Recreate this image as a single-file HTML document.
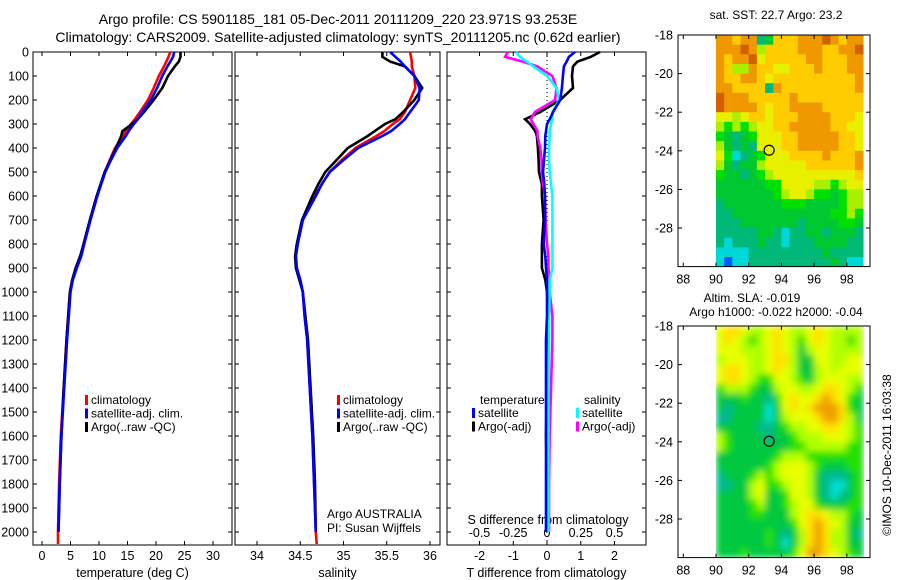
<!DOCTYPE html>
<html><head><meta charset="utf-8"><style>
html,body{margin:0;padding:0;background:#fff;}
svg{display:block;font-family:"Liberation Sans",Arial,sans-serif;}
</style></head><body>
<svg id="fig" width="900" height="580" viewBox="0 0 900 580" xmlns="http://www.w3.org/2000/svg">
<defs>
<filter id="smooth" x="0" y="0" width="1" height="1"><feGaussianBlur stdDeviation="3.5" edgeMode="duplicate"/></filter>
<clipPath id="clip2"><rect x="716" y="326" width="154" height="231.6"/></clipPath>
</defs>
<rect width="900" height="580" fill="#fff"/>
<text x="338" y="24" font-size="14" text-anchor="middle">Argo profile: CS 5901185_181 05-Dec-2011 20111209_220 23.971S 93.253E</text>
<text x="338" y="42" font-size="14" text-anchor="middle">Climatology: CARS2009. Satellite-adjusted climatology: synTS_20111205.nc (0.62d earlier)</text>
<g id="p1"></g>
<g id="p2"></g>
<g id="p3"></g>
<g id="m1"></g>
<g id="m2"></g>
<text transform="translate(891,455) rotate(-90)" font-size="12" text-anchor="middle">©IMOS 10-Dec-2011 16:03:38</text>
</svg>
<script>
// ---- profile data ----
const depths = [0,20,40,60,100,150,200,250,280,300,330,350,400,450,500,550,600,700,800,850,900,950,1000,1100,1200,1400,1600,1800,2000,2050];
const tempClim = [22.5,22.2,21.8,21.4,20.5,19.6,18.6,17.2,16.3,15.6,14.7,14.2,12.8,11.9,11.0,10.3,9.6,8.4,7.3,6.8,6.0,5.3,4.9,4.6,4.3,3.8,3.3,3.0,2.8,2.8];
const tempSat = [23.2,23.0,22.5,22.0,21.1,20.2,19.1,17.6,16.8,16.1,15.2,14.7,13.2,12.1,11.1,10.4,9.7,8.5,7.4,6.9,6.1,5.4,5.0,4.7,4.4,3.9,3.4,3.1,2.9,null];
const tempArgo = [24.3,24.3,24.0,23.3,22.1,21.1,19.6,17.9,16.8,15.8,14.1,13.9,13.0,12.0,11.0,10.3,9.6,8.4,7.3,6.7,5.9,5.3,4.9,4.6,4.3,3.8,3.4,3.1,2.9,null];
const salClim = [35.77,35.78,35.79,35.79,35.82,35.83,35.77,35.71,35.65,35.57,35.47,35.38,35.14,34.98,34.84,34.75,34.67,34.53,34.47,34.45,34.46,34.50,34.53,34.55,34.58,34.61,34.64,34.66,34.68,34.69];
const salSat = [35.54,35.60,35.66,35.71,35.82,35.88,35.87,35.77,35.71,35.65,35.55,35.45,35.17,35.00,34.84,34.75,34.68,34.53,34.47,34.45,34.46,34.50,34.53,34.55,34.58,34.61,34.64,34.66,34.68,null];
const salArgo = [35.45,35.45,35.54,35.71,35.82,35.91,35.82,35.69,35.60,35.48,35.36,35.28,35.05,34.92,34.79,34.71,34.64,34.52,34.46,34.44,34.45,34.49,34.53,34.56,34.59,34.62,34.65,34.67,34.68,null];
const dTempSat = [0.83,0.65,0.58,0.5,0.47,0.44,0.39,0.18,0.08,0.0,-0.03,-0.05,-0.06,-0.09,-0.12,-0.08,-0.06,-0.06,-0.1,-0.05,-0.03,0,0,0,-0.03,-0.03,-0.03,-0.03,-0.03,null];
const dTempArgo = [1.57,1.3,0.9,0.77,0.74,0.77,0.39,-0.2,-0.65,-0.5,-0.35,-0.3,-0.27,-0.25,-0.24,-0.15,-0.15,-0.1,-0.15,-0.15,-0.15,-0.05,0,0.03,0.03,0.0,-0.03,0,0,null];
const dSalSat = [-0.23,-0.2,-0.15,-0.1,0,0.07,0.09,0.04,0.04,0.03,0.02,0.02,0.015,0.015,0.02,0.03,0.04,0.04,0.04,0.04,0.04,0.02,0.02,0.015,0.015,0.01,0.01,0.01,0.01,null];
const dSalArgo = [-0.29,-0.31,-0.18,-0.07,0.04,0.07,0.06,-0.09,-0.12,-0.1,-0.07,-0.07,-0.05,-0.04,-0.04,-0.03,-0.015,-0.01,0,0.01,0.01,0.02,0.02,0.04,0.04,0.03,0.02,0.015,0.015,null];
const depthTicks = [0,100,200,300,400,500,600,700,800,900,1000,1100,1200,1300,1400,1500,1600,1700,1800,1900,2000];
const tempTicks = [0,5,10,15,20,25,30];
const salTicks = [34,34.5,35,35.5,36];
const dTempTicks = [-2,-1,0,1,2];
const dSalTicks = [-0.5,-0.25,0,0.25,0.5];
// ---- map data (colour levels 0..9, rows from lat -18 southward in 0.5deg, cols lon 90..98.5) ----
const mapLons = [90,90.5,91,91.5,92,92.5,93,93.5,94,94.5,95,95.5,96,96.5,97,97.5,98,98.5];
const mapLats = [-18,-18.5,-19,-19.5,-20,-20.5,-21,-21.5,-22,-22.5,-23,-23.5,-24,-24.5,-25,-25.5,-26,-26.5,-27,-27.5,-28,-28.5,-29,-29.5];
const sstRows = ["887882377788898788","888985777788877889","878896777778877788","875587766777877788","877887677777777778","887777287777777778","988877777877777777","988887677888877777","665677677788887776","545456677888887766","432346667788888776","532326667788888776","641234666777787778","532335666667777778","433234566666666667","333333446666554566","333333345665443455","233333334443333455","223333333333334454","222333333323333443","222223321223323332","212223221222333322","111122222222232222","101122222222223211"];
const slaRows = ["677655676556765555","676545676546765545","666555676535665555","566655677533665566","677655676533565666","677654466543566655","455543356655677654","333433246766787643","323333136767888743","223333135666788753","333332234556677654","543333233455566654","543333333445555544","333333345554444444","333333456665433344","233345456665322234","223356445665321134","333356334665321234","333345334566433344","333344333567765543","333333333467876533","333333432357875532","333333431357875533","333433333468876543"];
const sstTicksLat = [-18,-20,-22,-24,-26,-28];
const mapTicksLon = [88,90,92,94,96,98];
const argoLon = 93.25, argoLat = -23.97;

const NS = "http://www.w3.org/2000/svg";
function mk(parent, tag, attrs, text){
  const e = document.createElementNS(NS, tag);
  for (const k in attrs) e.setAttribute(k, attrs[k]);
  if (text !== undefined) e.textContent = text;
  parent.appendChild(e);
  return e;
}
const Y = d => 52 + d * 0.24;

function panel(gid, x0, x1, xs, ticks, tickLbl, showY, xlabel, name){
  const g = document.getElementById(gid);
  const box = mk(g, 'rect', {x:x0, y:52, width:x1-x0, height:493, fill:'none', stroke:'#000', 'stroke-width':1});
  
  
  depthTicks.forEach(d => {
    const y = Y(d);
    mk(g,'line',{x1:x0,x2:x0+4,y1:y,y2:y,stroke:'#000'});
    mk(g,'line',{x1:x1-4,x2:x1,y1:y,y2:y,stroke:'#000'});
    if (showY){
      const t = mk(g,'text',{x:x0-4,y:y+4.5,'font-size':12.5,'text-anchor':'end'}, String(d));
      
      
    }
  });
  ticks.forEach(v => {
    const x = xs(v);
    mk(g,'line',{x1:x,x2:x,y1:545,y2:541,stroke:'#000'});
    mk(g,'line',{x1:x,x2:x,y1:52,y2:56,stroke:'#000'});
    if (tickLbl){
      const t = mk(g,'text',{x:x,y:560,'font-size':12.5,'text-anchor':'middle'}, String(v));
      
      
    }
  });
  const xl = mk(g,'text',{x:(x0+x1)/2,y:577,'font-size':12.5,'text-anchor':'middle'}, xlabel);
  
  
  return g;
}
function series(g, vals, xs, color, name){
  let pts = [];
  for (let i=0;i<depths.length;i++){
    if (vals[i] === null) continue;
    pts.push(xs(vals[i]).toFixed(1)+','+Y(depths[i]).toFixed(1));
  }
  const p = mk(g,'polyline',{points:pts.join(' '),fill:'none',stroke:color,'stroke-width':2.6,'stroke-linejoin':'miter'});
  
  
}
function legend(g, x, y, items, name){
  items.forEach((it,i)=>{
    const yy = y + i*13.5;
    const m = mk(g,'rect',{x:x,y:yy-9,width:3,height:10,fill:it[1]});
    
    
    const t = mk(g,'text',{x:x+6,y:yy,'font-size':12}, it[0]);
    
    
  });
}

// panel 1
const xT = t => 42 + t*5.7;
const g1 = panel('p1', 33, 232, xT, tempTicks, true, true, 'temperature (deg C)', 'temperature');
series(g1, tempClim, xT, '#ff0000', 'temp-climatology-line');
series(g1, tempArgo, xT, '#000000', 'temp-argo-line');
series(g1, tempSat, xT, '#0000ff', 'temp-satellite-line');
legend(g1, 85, 404, [['climatology','#ff0000'],['satellite-adj. clim.','#0000ff'],['Argo(..raw -QC)','#000000']], 'temp-legend');

// panel 2
const xS = s => 257 + (s-34)*86.5;
const g2 = panel('p2', 235, 440, xS, salTicks, true, false, 'salinity', 'salinity');
series(g2, salClim, xS, '#ff0000', 'sal-climatology-line');
series(g2, salArgo, xS, '#000000', 'sal-argo-line');
series(g2, salSat, xS, '#0000ff', 'sal-satellite-line');
legend(g2, 337, 404, [['climatology','#ff0000'],['satellite-adj. clim.','#0000ff'],['Argo(..raw -QC)','#000000']], 'sal-legend');
const a1 = mk(g2,'text',{x:327,y:518,'font-size':12}, 'Argo AUSTRALIA');


const a2 = mk(g2,'text',{x:327,y:532,'font-size':12}, 'PI: Susan Wijffels');



// panel 3
const xdT = v => 547 + v*33.75;
const xdS = v => 547 + v*135;
const g3 = panel('p3', 447, 646, xdT, dTempTicks, true, false, 'T difference from climatology', 'difference');
mk(g3,'line',{x1:547,x2:547,y1:52,y2:545,stroke:'#000','stroke-dasharray':'1,3'});
dSalTicks.forEach(v => {
  const t = mk(g3,'text',{x:xdS(v),y:537,'font-size':12.5,'text-anchor':'middle'}, String(v));
  
  
});
const sl = mk(g3,'text',{x:548,y:524,'font-size':12.5,'text-anchor':'middle'}, 'S difference from climatology');


series(g3, dTempArgo, xdT, '#000000', 'dtemp-argo-line');
series(g3, dSalArgo, xdS, '#ff00ff', 'dsal-argo-line');
series(g3, dSalSat, xdS, '#00ffff', 'dsal-satellite-line');
series(g3, dTempSat, xdT, '#0000ff', 'dtemp-satellite-line');
const lt = mk(g3,'text',{x:480,y:404,'font-size':12}, 'temperature');


const ls = mk(g3,'text',{x:584,y:404,'font-size':12}, 'salinity');


legend(g3, 472, 417, [['satellite','#0000ff'],['Argo(-adj)','#000000']], 'dtemp-legend');
legend(g3, 576, 417, [['satellite','#00ffff'],['Argo(-adj)','#ff00ff']], 'dsal-legend');

// maps
const cmap1 = ['#0060ff','#00d8d8','#00b878','#00c830','#00e000','#a8f000','#e8f000','#ffcc00','#f09800','#d06000'];
const cmap2 = ['#0060ff','#00e0d0','#00b890','#00c840','#20e000','#b0ff00','#e8ff00','#ffe000','#f0a000','#d06000'];
function drawMap(gid, top, rows, cmap, smooth, title1, title2, name){
  const g = document.getElementById(gid);
  const lonX = l => 716 + (l-90)*16.35;
  const latY = la => top + (-18-la)*19.3;
  const bottom = latY(-30);
  let cg = g;
  if (smooth){
    const clip = mk(g,'g',{'clip-path':'url(#clip2)'});
    cg = mk(clip,'g',{filter:'url(#smooth)'});
  }
  rows.forEach((r, ri) => {
    for (let ci=0; ci<mapLons.length; ci++){
      const v = +r[ci];
      const x = lonX(mapLons[ci]), y = latY(mapLats[ri]);
      const c = mk(cg,'rect',{x:x.toFixed(2),y:y.toFixed(2),width:(lonX(mapLons[ci]+0.5)-x+0.4).toFixed(2),height:(latY(mapLats[ri]-0.5)-y+0.4).toFixed(2),fill:cmap[v]});
      
      
    }
  });
  const b = mk(g,'rect',{x:678,y:top,width:192,height:bottom-top,fill:'none',stroke:'#000'});
  
  
  sstTicksLat.forEach(la => {
    const y = latY(la);
    mk(g,'line',{x1:678,x2:682,y1:y,y2:y,stroke:'#000'});
    mk(g,'line',{x1:866,x2:870,y1:y,y2:y,stroke:'#000'});
    const t = mk(g,'text',{x:673,y:y+4.5,'font-size':12.5,'text-anchor':'end'}, String(la));
    
    
  });
  mapTicksLon.forEach(lo => {
    const x = lonX(lo);
    mk(g,'line',{x1:x,x2:x,y1:bottom,y2:bottom-4,stroke:'#000'});
    mk(g,'line',{x1:x,x2:x,y1:top,y2:top+4,stroke:'#000'});
    const t = mk(g,'text',{x:x,y:bottom+17,'font-size':12.5,'text-anchor':'middle'}, String(lo));
    
    
  });
  const m = mk(g,'circle',{cx:lonX(argoLon),cy:latY(argoLat),r:5,fill:'none',stroke:'#000','stroke-width':1.2});
  
  
  if (title1){ const t=mk(g,'text',{x:title1[1],y:title1[2],'font-size':12,'text-anchor':'middle'}, title1[0]);   }
  if (title2){ const t=mk(g,'text',{x:title2[1],y:title2[2],'font-size':12,'text-anchor':'middle'}, title2[0]);   }
}
drawMap('m1', 35, sstRows, cmap1, false, ['sat. SST: 22.7 Argo: 23.2', 776, 19], null, 'sst-map');
drawMap('m2', 326, slaRows, cmap2, true, ['Altim. SLA: -0.019', 752, 302], ['Argo h1000: -0.022 h2000: -0.04', 776, 316], 'sla-map');
</script>
</body></html>
